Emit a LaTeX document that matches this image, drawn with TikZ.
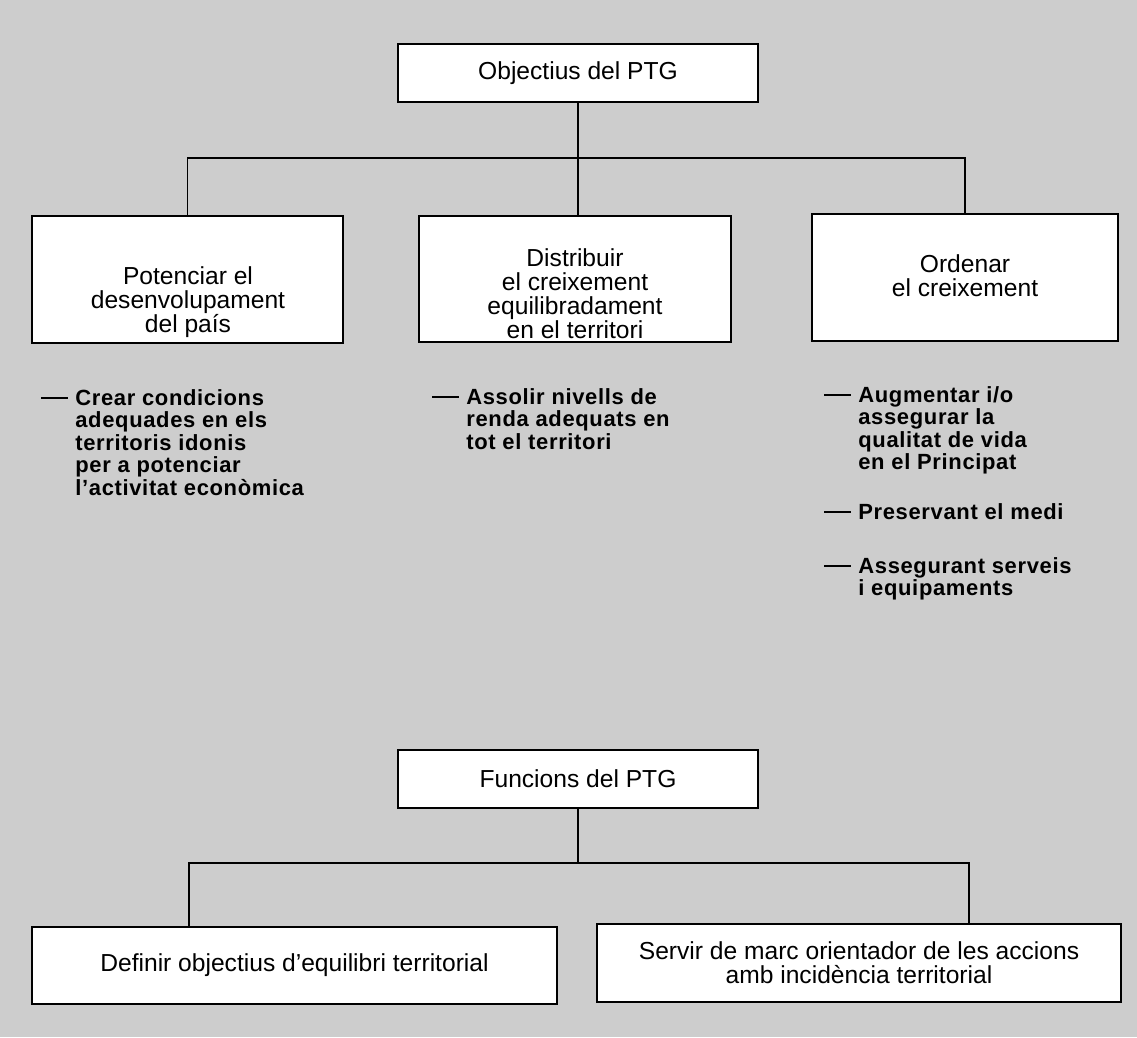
\documentclass[tikz,border=0pt]{standalone}
\usepackage{fontspec}
\setmainfont{Liberation Sans}
\newfontfamily\itemfont[LetterSpace=3]{Liberation Sans}
\definecolor{screen}{HTML}{CDCDCD}
\newcommand\itemdash{\llap{\rule[1.3mm]{5.4mm}{0.4mm}\hspace{1.4mm}}}

\begin{document}
\begin{tikzpicture}[
  x=0.2mm,y=-0.2mm,
  box/.style={draw=black,fill=white,line width=1.2pt,inner sep=0pt},
  boxtxt/.style={align=center,font=\fontsize{14}{13.6}\selectfont},
  item/.style={align=left,anchor=north west,inner sep=0pt,font=\itemfont\bfseries\fontsize{12.5}{12.8}\selectfont},
  lnk/.style={draw=black,line width=1.1pt},
]

\fill[screen] (0,0) rectangle (1137,1037);
\useasboundingbox (0,0) rectangle (1137,1037);

\node[box,boxtxt,minimum width=72mm,minimum height=11.6mm] (obj) at (578,73) {Objectius del PTG};
\node[box,minimum width=62.2mm,minimum height=25.4mm] (pot) at (187.5,279.5) {};
\node[box,minimum width=62.4mm,minimum height=25.2mm] (dis) at (575,279) {};
\node[box,minimum width=61.2mm,minimum height=25.4mm] (ord) at (965,277.5) {};
\node[boxtxt] (pottxt) at (188,302) {Potenciar el\\desenvolupament\\del país};
\node[boxtxt] (distxt) at (575,294) {Distribuir\\el creixement\\equilibradament\\en el territori};
\node[boxtxt] (ordtxt) at (965,276) {Ordenar\\el creixement};

\coordinate (objbar) at (578,158);
\draw[lnk] (obj.south) -- (obj.south |- dis.north);
\draw[lnk] (pot.north) |- (objbar) -| (ord.north);

\node[item] (potobj) at (75,389) {\itemdash Crear condicions\\adequades en els\\territoris idonis\\per a potenciar\\l’activitat econòmica};
\node[item] (disobj) at (466,388) {\itemdash Assolir nivells de\\renda adequats en\\tot el territori};
\node[item] (ordobj) at (858,386) {\itemdash Augmentar i/o\\assegurar la\\qualitat de vida\\en el Principat};
\node[item] (ordmedi) at (858,503) {\itemdash Preservant el medi};
\node[item] (ordserv) at (858,557) {\itemdash Assegurant serveis\\i equipaments};

\node[box,boxtxt,minimum width=72mm,minimum height=11.6mm] (fun) at (578,779) {Funcions del PTG};
\node[box,boxtxt,minimum width=105mm,minimum height=15.4mm] (def) at (294.5,965.5) {Definir objectius d’equilibri territorial};
\node[box,boxtxt,minimum width=104.8mm,minimum height=15.6mm] (ser) at (859,963) {Servir de marc orientador de les accions\\amb incidència territorial};

\coordinate (funbar) at (578,863);
\coordinate (defjoin) at (189,927);
\coordinate (serjoin) at (969,924);
\draw[lnk] (fun.south) -- (funbar);
\draw[lnk] (defjoin) |- (funbar) -| (serjoin);
\end{tikzpicture}
\end{document}
